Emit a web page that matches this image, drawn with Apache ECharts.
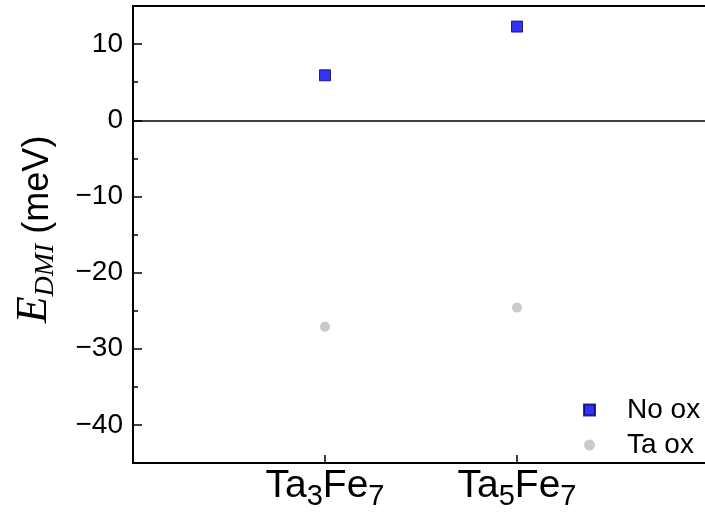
<!DOCTYPE html>
<html>
<head>
<meta charset="utf-8">
<script src="https://cdn.jsdelivr.net/npm/echarts@6/dist/echarts.min.js"></script>
<style>
  html, body { margin: 0; padding: 0; background: #fff; }
  #chart { width: 705px; height: 517px; }
</style>
</head>
<body>
<div id="chart"></div>
<script>
// Compounds along the x axis (digits become subscripts when drawn)
const categories = ['Ta3Fe7', 'Ta5Fe7'];
// DMI energy in meV for each compound
const noOx = [5.9, 12.3];
const taOx = [-27.1, -24.6];
const seriesNames = ['No ox', 'Ta ox'];
// y-axis ticks
const majorTicks = [-40, -30, -20, -10, 0, 10];
const minorTicks = [-35, -25, -15, -5, 5];

const catPos = categories.map((c, i) => i + 1);
const toRich = s => s.replace(/([A-Za-z]+)(\d+)/g, '{m|$1}{s|$2}');
const minus = v => String(v).replace('-', '\u2212');

const sans = 'Liberation Sans, Arial, sans-serif';
const serif = 'Liberation Serif, Times New Roman, serif';

const chart = echarts.init(document.getElementById('chart'));
chart.setOption({
  animation: false,
  backgroundColor: '#fff',
  grid: {
    left: 133, top: 6, width: 576, height: 457,
    outerBoundsMode: 'none',
    show: true, borderColor: '#000', borderWidth: 2, backgroundColor: 'transparent'
  },
  legend: {
    orient: 'vertical',
    left: 578, top: 390,
    itemWidth: 11, itemHeight: 11, itemGap: 5,
    data: seriesNames,
    textStyle: { fontSize: 28, fontFamily: sans, color: '#000', lineHeight: 30, padding: [0, 0, 0, 27] }
  },
  xAxis: {
    type: 'value', min: 0, max: 3,
    axisLine: { onZero: false, lineStyle: { color: '#000', width: 2 } },
    axisTick: { customValues: catPos, inside: true, length: 8, lineStyle: { color: '#000', width: 1.5 } },
    axisLabel: {
      customValues: catPos,
      margin: 4,
      formatter: v => toRich(categories[Math.round(v) - 1] || ''),
      rich: {
        m: { fontSize: 39, fontFamily: sans, color: '#000', verticalAlign: 'bottom', padding: [0, 0, 5, 0] },
        s: { fontSize: 29, fontFamily: sans, color: '#000', verticalAlign: 'bottom' }
      }
    },
    splitLine: { show: false }
  },
  yAxis: [
    {
      type: 'value', min: -45, max: 15, position: 'left',
      axisLine: { onZero: false, lineStyle: { color: '#000', width: 2 } },
      axisTick: { customValues: majorTicks, inside: true, length: 9, lineStyle: { color: '#000', width: 1.5 } },
      axisLabel: { customValues: majorTicks, formatter: minus, fontSize: 28, fontFamily: sans, color: '#000', margin: 10 },
      splitLine: { show: false },
      name: '{e|E}{d|DMI}{u| (meV)}',
      nameLocation: 'middle',
      nameRotate: 90,
      nameGap: 73,
      nameTextStyle: {
        padding: [0, 0, 0, 10],
        rich: {
          e: { fontSize: 44, fontFamily: serif, fontStyle: 'italic', color: '#000', verticalAlign: 'bottom', padding: [0, 0, 4, 0] },
          d: { fontSize: 28, fontFamily: serif, fontStyle: 'italic', color: '#000', verticalAlign: 'bottom' },
          u: { fontSize: 36, fontFamily: sans, color: '#000', verticalAlign: 'bottom', padding: [0, 0, 4, 0] }
        }
      }
    },
    {
      type: 'value', min: -45, max: 15, position: 'left',
      axisLine: { show: false },
      axisTick: { customValues: minorTicks, inside: true, length: 5, lineStyle: { color: '#000', width: 1.5 } },
      axisLabel: { show: false },
      splitLine: { show: false }
    }
  ],
  series: [
    {
      name: seriesNames[0], type: 'scatter', symbol: 'rect', symbolSize: 11,
      itemStyle: { color: '#0000ee', borderColor: '#000070', borderWidth: 1 },
      data: noOx.map((v, i) => [catPos[i], v]),
      markLine: {
        silent: true, symbol: ['none', 'none'], label: { show: false },
        lineStyle: { color: '#000', width: 1.5, type: 'solid' },
        data: [{ yAxis: 0 }]
      }
    },
    {
      name: seriesNames[1], type: 'scatter', symbol: 'circle', symbolSize: 10,
      itemStyle: { color: '#bdbdbd' },
      data: taOx.map((v, i) => [catPos[i], v])
    }
  ]
});
</script>
</body>
</html>
